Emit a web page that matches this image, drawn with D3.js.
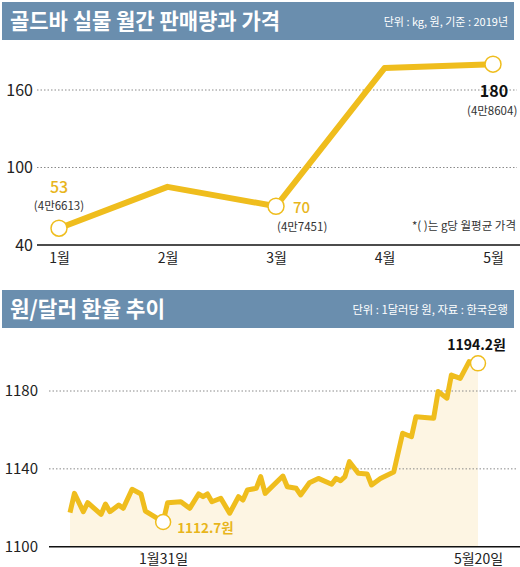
<!DOCTYPE html>
<html>
<head>
<meta charset="utf-8">
<script src="https://cdn.jsdelivr.net/npm/d3@7"></script>
<style>
  body { margin: 0; background: #fff; }
  text { font-family: "Noto Sans CJK KR", "Noto Sans", sans-serif; }
</style>
</head>
<body>
<script>
// gold bar sales (kg) by month, with avg price per gram
months = ['1월', '2월', '3월', '4월', '5월'];
sales = [53, 85, 70, 177, 180];
prices = ['4만6613', null, '4만7451', null, '4만8604'];
salesTicks = [40, 100, 160];

// won/dollar rate: trading-day index (0 = Jan 2) and rate
rateDays = [0, 1, 3, 4, 7, 8, 9, 11, 12, 14, 16, 17, 21, 22, 25, 27, 29, 30, 31, 32,
  34, 36, 38, 39, 40, 42, 43, 44, 48, 49, 51, 52, 54, 56, 59, 60, 61, 62, 63, 65,
  67, 68, 70, 73, 75, 77, 78, 82, 83, 85, 86, 88, 90, 92];
rates = [1117.5, 1127.4, 1118.0, 1122.6, 1116.6, 1121.9, 1118.0, 1121.4, 1119.7, 1129.5,
  1127.1, 1118.3, 1112.7, 1122.6, 1123.1, 1119.7, 1127.1, 1125.7, 1127.1, 1123.1,
  1124.9, 1117.2, 1125.7, 1124.0, 1129.1, 1130.0, 1136.0, 1127.4, 1136.3, 1130.8,
  1130.0, 1126.6, 1132.9, 1135.1, 1132.1, 1135.1, 1133.9, 1136.0, 1143.7, 1137.7,
  1137.4, 1131.7, 1135.1, 1138.4, 1158.3, 1156.5, 1166.8, 1166.0, 1179.7, 1176.3,
  1188.2, 1186.5, 1195.1, 1194.2];
rateTicks = [1100, 1140, 1180];
dayTicks = [21, 92];
dayLabels = ['1월31일', '5월20일'];

w = 520;
h = 567;
gold = '#efbd1d';
cream = '#fdf5e3';

svg = d3.select('body')
  .append('svg')
  .attr('width', w)
  .attr('height', h);

function banner(y, title, titleLen, note, noteSize) {
  svg.append('rect')
    .attr('x', 2).attr('y', y)
    .attr('width', 512).attr('height', 38)
    .attr('fill', '#6a8eae');
  svg.append('text')
    .attr('x', 10).attr('y', y + 27)
    .attr('fill', '#fff')
    .attr('font-size', 22)
    .attr('font-weight', 700)
    .attr('textLength', titleLen)
    .attr('lengthAdjust', 'spacingAndGlyphs')
    .text(title);
  svg.append('text')
    .attr('x', 508).attr('y', y + 24)
    .attr('fill', '#fff')
    .attr('font-size', noteSize)
    .attr('text-anchor', 'end')
    .text(note);
}

function label(x, y, str, size, color, weight, anchor) {
  return svg.append('text')
    .attr('x', x).attr('y', y)
    .attr('font-size', size)
    .attr('fill', color)
    .attr('font-weight', weight)
    .attr('text-anchor', anchor || 'start')
    .text(str);
}

function styleAxis(g, size) {
  g.select('.domain').remove();
  g.selectAll('text')
    .attr('font-size', size)
    .attr('fill', '#222')
    .attr('font-family', '"Noto Sans CJK KR", "Noto Sans", sans-serif');
}

function grid(scale, values, x1, x2) {
  svg.append('g')
    .selectAll('line')
    .data(values)
    .enter()
    .append('line')
    .attr('x1', x1).attr('x2', x2)
    .attr('y1', d => scale(d)).attr('y2', d => scale(d))
    .attr('stroke', '#8a8a8a')
    .attr('stroke-width', 1)
    .attr('stroke-dasharray', '1.5,2');
}

// ---------- top chart ----------
banner(2, '골드바 실물 월간 판매량과 가격', 270, '단위 : kg, 원, 기준 : 2019년', 11);

let xMonth = d3.scalePoint()
  .domain(months)
  .range([59, 493]);
let ySales = d3.scaleLinear()
  .domain([40, 160])
  .range([245, 90]);

grid(ySales, salesTicks.slice(1), 37, 517);
svg.append('line')
  .attr('x1', 37).attr('x2', 520)
  .attr('y1', ySales(40)).attr('y2', ySales(40))
  .attr('stroke', '#111').attr('stroke-width', 1.5);

svg.append('g')
  .attr('transform', 'translate(35, 0)')
  .call(d3.axisLeft(ySales).tickValues(salesTicks).tickSize(0).tickPadding(2))
  .call(g => styleAxis(g, 16));

svg.append('g')
  .attr('transform', `translate(0, ${ySales(40)})`)
  .call(d3.axisBottom(xMonth).tickSize(0).tickPadding(8))
  .call(g => styleAxis(g, 14));

svg.append('path')
  .datum(sales)
  .attr('fill', 'none')
  .attr('stroke', gold)
  .attr('stroke-width', 6)
  .attr('stroke-linejoin', 'round')
  .attr('d', d3.line().x((d, i) => xMonth(months[i])).y(d => ySales(d)));

svg.selectAll('circle.sale')
  .data(sales.map((d, i) => [months[i], d, prices[i]]).filter(d => d[2]))
  .enter()
  .append('circle')
  .attr('cx', d => xMonth(d[0]))
  .attr('cy', d => ySales(d[1]))
  .attr('r', 8)
  .attr('fill', '#fff')
  .attr('stroke', gold)
  .attr('stroke-width', 1.5);

// value labels
let p1 = [xMonth(months[0]), ySales(sales[0])];
label(p1[0], p1[1] - 35, sales[0], 16, '#e8b51c', 500, 'middle');
label(p1[0], p1[1] - 18, `(${prices[0]})`, 11.5, '#333', 400, 'middle');
let p3 = [xMonth(months[2]), ySales(sales[2])];
label(p3[0] + 17, p3[1] + 7, sales[2], 15, '#e8b51c', 500);
label(p3[0] + 1, p3[1] + 25, `(${prices[2]})`, 11.5, '#333', 400);
let p5 = [xMonth(months[4]), ySales(sales[4])];
label(p5[0] + 1, p5[1] + 33, sales[4], 16, '#111', 700, 'middle');
label(p5[0] - 26, p5[1] + 51, `(${prices[4]})`, 11.5, '#333', 400);
label(516, 230, '*( )는 g당 월평균 가격', 11.5, '#333', 400, 'end');

// ---------- bottom chart ----------
banner(290, '원/달러 환율 추이', 155, '단위 : 1달러당 원, 자료 : 한국은행', 11.3);

let xDay = d3.scaleLinear()
  .domain([0, 92])
  .range([70, 478]);
let yRate = d3.scaleLinear()
  .domain([1100, 1180])
  .range([546.7, 391]);

let pts = rateDays.map((d, i) => [d, rates[i]]);

svg.append('path')
  .datum(pts)
  .attr('fill', cream)
  .attr('d', d3.area().x(d => xDay(d[0])).y0(yRate(1100)).y1(d => yRate(d[1])));

grid(yRate, rateTicks.slice(1), 49, 517);
svg.append('line')
  .attr('x1', 49).attr('x2', 520)
  .attr('y1', yRate(1100)).attr('y2', yRate(1100))
  .attr('stroke', '#111').attr('stroke-width', 1.5);

svg.append('g')
  .attr('transform', 'translate(40, 0)')
  .call(d3.axisLeft(yRate).tickValues(rateTicks).tickSize(0).tickPadding(2)
    .tickFormat(d3.format('d')))
  .call(g => styleAxis(g, 15));

svg.append('g')
  .attr('transform', `translate(0, ${yRate(1100)})`)
  .call(d3.axisBottom(xDay).tickValues(dayTicks).tickSize(0).tickPadding(7)
    .tickFormat((d, i) => dayLabels[i]))
  .call(g => styleAxis(g, 14));

svg.append('path')
  .datum(pts)
  .attr('fill', 'none')
  .attr('stroke', gold)
  .attr('stroke-width', 5)
  .attr('stroke-linejoin', 'round')
  .attr('d', d3.line().x(d => xDay(d[0])).y(d => yRate(d[1])));

let lowIdx = rates.indexOf(d3.min(rates));
let lastIdx = rates.length - 1;
svg.selectAll('circle.rate')
  .data([pts[lowIdx], pts[lastIdx]])
  .enter()
  .append('circle')
  .attr('cx', d => xDay(d[0]))
  .attr('cy', d => yRate(d[1]))
  .attr('r', 7.5)
  .attr('fill', '#fff')
  .attr('stroke', gold)
  .attr('stroke-width', 1.5);

let lo = pts[lowIdx];
label(xDay(lo[0]) + 14, yRate(lo[1]) + 11, `${lo[1]}원`, 13.5, '#e8b51c', 700);
let hi = pts[lastIdx];
label(xDay(hi[0]) + 28, yRate(hi[1]) - 13, `${hi[1]}원`, 14, '#111', 700, 'end');
</script>
</body>
</html>
